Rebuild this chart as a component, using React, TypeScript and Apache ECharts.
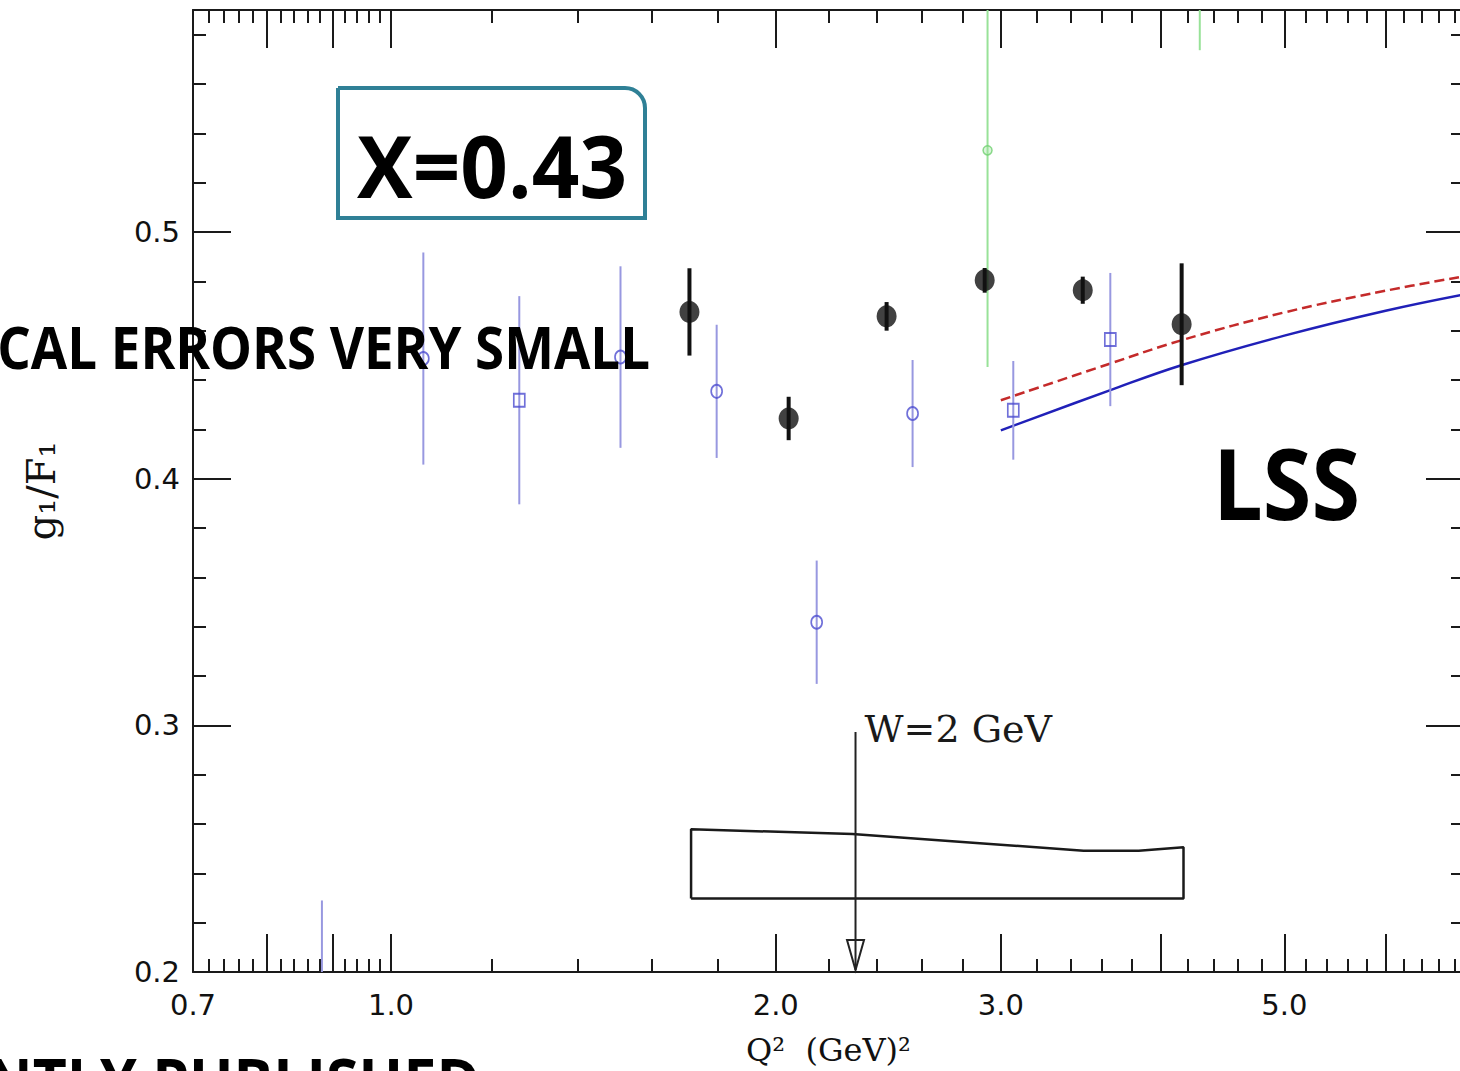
import React, { useEffect, useRef } from 'react';
import * as echarts from 'echarts';

// ---- axis ranges (Q^2 in GeV^2, log scale) ----
const X_MIN = 0.7;
const X_MAX = 6.91;
const Y_MIN = 0.2;
const Y_MAX = 0.59;

// ---- ticks ----
const xLabelTicks = [0.7, 1.0, 2.0, 3.0, 5.0];
const xMajorTicks = [0.8, 0.9, 1.0, 2.0, 3.0, 4.0, 5.0, 6.0];
const xMinorTicks = [
  0.72, 0.74, 0.76, 0.78, 0.82, 0.84, 0.86, 0.88, 0.92, 0.94, 0.96, 0.98,
  1.2, 1.4, 1.6, 1.8, 2.2, 2.4, 2.6, 2.8, 3.2, 3.4, 3.6, 3.8,
  4.2, 4.4, 4.6, 4.8, 5.2, 5.4, 5.6, 5.8, 6.2, 6.4, 6.6, 6.8,
];
const yMajorTicks = [0.2, 0.3, 0.4, 0.5];
const yMinorTicks = [
  0.22, 0.24, 0.26, 0.28, 0.32, 0.34, 0.36, 0.38,
  0.42, 0.44, 0.46, 0.48, 0.52, 0.54, 0.56, 0.58,
];

// ---- black filled points (new data) ----
const blackQ2 = [1.712, 2.047, 2.442, 2.914, 3.477, 4.155];
const blackG = [0.4676, 0.4244, 0.4658, 0.4804, 0.4764, 0.4626];
const blackErr = [0.0177, 0.0088, 0.0058, 0.005, 0.0055, 0.0247];

// ---- blue open points ----
const blueQ2 = [0.883, 1.06, 1.26, 1.512, 1.798, 2.153, 2.559, 3.068, 3.654];
const blueG = [0.15, 0.4487, 0.4318, 0.4493, 0.4354, 0.3418, 0.4264, 0.4277, 0.4564];
const blueErr = [0.079, 0.043, 0.0422, 0.0368, 0.027, 0.025, 0.0217, 0.02, 0.027];
const blueSymbol = ['circle', 'circle', 'rect', 'circle', 'circle', 'circle', 'circle', 'rect', 'rect'];

// ---- green open points ----
const greenQ2 = [2.929, 4.293];
const greenG = [0.5331, 0.66];
const greenErr = [0.0878, 0.0863];

// ---- LSS curves ----
const lssQ2 = [3.0, 3.65, 4.153, 5.0, 6.0, 6.91];
const lssSolid = [0.4196, 0.4358, 0.446, 0.458, 0.4681, 0.4747];
const lssDashed = [0.4318, 0.4466, 0.4561, 0.4674, 0.4762, 0.482];

// ---- systematic error band ----
const sysQ2 = [1.717, 2.296, 2.888, 3.482, 3.846, 4.169];
const sysTop = [0.2579, 0.2559, 0.2522, 0.2492, 0.2492, 0.2506];
const sysBottom = 0.2298;

// ---- W = 2 GeV marker ----
const wQ2 = 2.309;
const wTop = 0.2973;
const wTip = 0.2008;

const L = (v: number) => Math.log10(v);
const AX = '#1a1a1a';

function errorBars(xs: number[], ys: number[], errs: number[], color: string, width: number, z: number) {
  return {
    type: 'custom',
    silent: true,
    z,
    xAxisIndex: 0,
    yAxisIndex: 0,
    data: xs.map((q, i) => [L(q), ys[i] - errs[i], ys[i] + errs[i]]),
    encode: { x: 0, y: [1, 2] },
    renderItem: (_p: any, api: any) => {
      const x = api.value(0) as number;
      const lo = Math.max(api.value(1) as number, Y_MIN);
      const hi = Math.min(api.value(2) as number, Y_MAX);
      if (hi <= lo) return null;
      const a = api.coord([x, lo]);
      const b = api.coord([x, hi]);
      return {
        type: 'line',
        shape: { x1: a[0], y1: a[1], x2: b[0], y2: b[1] },
        style: { stroke: color, lineWidth: width },
      };
    },
  };
}

function buildOption() {
  const xCommon = {
    type: 'value',
    min: L(X_MIN),
    max: L(X_MAX),
    splitLine: { show: false },
  };
  const yCommon = {
    type: 'value',
    min: Y_MIN,
    max: Y_MAX,
    splitLine: { show: false },
  };
  const lineStyle = { color: AX, width: 2 };

  const bandData: number[][] = [
    [L(sysQ2[0]), sysBottom],
    ...sysQ2.map((q, i) => [L(q), sysTop[i]]),
    [L(sysQ2[sysQ2.length - 1]), sysBottom],
    [L(sysQ2[0]), sysBottom],
  ];

  return {
    animation: false,
    backgroundColor: '#fff',
    grid: { left: 193, top: 10, width: 1271, height: 962, containLabel: false, outerBoundsMode: 'none' },
    xAxis: [
      {
        ...xCommon,
        position: 'bottom',
        axisLine: { show: true, onZero: false, lineStyle },
        axisTick: { show: true, inside: true, length: 38, customValues: xMajorTicks.map(L), lineStyle },
        axisLabel: {
          show: true,
          customValues: xLabelTicks.map(L),
          formatter: (v: number) => Math.pow(10, v).toFixed(1),
          margin: 18,
          fontFamily: 'DejaVu Sans',
          fontSize: 29,
          color: '#111',
        },
        name: 'Q²  (GeV)²',
        nameLocation: 'middle',
        nameGap: 62,
        nameTextStyle: { fontFamily: 'DejaVu Serif', fontSize: 32, color: '#111' },
      },
      {
        ...xCommon,
        position: 'bottom',
        axisLine: { show: false, onZero: false },
        axisTick: { show: true, inside: true, length: 13, customValues: xMinorTicks.map(L), lineStyle },
        axisLabel: { show: false },
      },
      {
        ...xCommon,
        position: 'top',
        axisLine: { show: true, onZero: false, lineStyle },
        axisTick: { show: true, inside: true, length: 38, customValues: xMajorTicks.map(L), lineStyle },
        axisLabel: { show: false },
      },
      {
        ...xCommon,
        position: 'top',
        axisLine: { show: false, onZero: false },
        axisTick: { show: true, inside: true, length: 13, customValues: xMinorTicks.map(L), lineStyle },
        axisLabel: { show: false },
      },
    ],
    yAxis: [
      {
        ...yCommon,
        position: 'left',
        axisLine: { show: true, onZero: false, lineStyle },
        axisTick: { show: true, inside: true, length: 38, customValues: yMajorTicks, lineStyle },
        axisLabel: {
          show: true,
          customValues: yMajorTicks,
          formatter: (v: number) => v.toFixed(1),
          margin: 13,
          fontFamily: 'DejaVu Sans',
          fontSize: 29,
          color: '#111',
        },
        name: 'g₁/F₁',
        nameLocation: 'middle',
        nameGap: 132,
        nameTextStyle: { fontFamily: 'DejaVu Serif', fontSize: 40, color: '#111' },
      },
      {
        ...yCommon,
        position: 'left',
        axisLine: { show: false, onZero: false },
        axisTick: { show: true, inside: true, length: 13, customValues: yMinorTicks, lineStyle },
        axisLabel: { show: false },
      },
      {
        ...yCommon,
        position: 'right',
        axisLine: { show: true, onZero: false, lineStyle },
        axisTick: { show: true, inside: true, length: 38, customValues: yMajorTicks, lineStyle },
        axisLabel: { show: false },
      },
      {
        ...yCommon,
        position: 'right',
        axisLine: { show: false, onZero: false },
        axisTick: { show: true, inside: true, length: 13, customValues: yMinorTicks, lineStyle },
        axisLabel: { show: false },
      },
    ],
    series: [
      {
        name: 'systematic band',
        type: 'line',
        xAxisIndex: 0,
        yAxisIndex: 0,
        data: bandData,
        symbol: 'none',
        silent: true,
        lineStyle: { color: '#1a1a1a', width: 2.5 },
        z: 2,
      },
      {
        name: 'LSS solid',
        type: 'line',
        xAxisIndex: 0,
        yAxisIndex: 0,
        data: lssQ2.map((q, i) => [L(q), lssSolid[i]]),
        symbol: 'none',
        smooth: 0.4,
        silent: true,
        lineStyle: { color: '#2020b8', width: 2.5 },
        z: 2,
      },
      {
        name: 'LSS dashed',
        type: 'line',
        xAxisIndex: 0,
        yAxisIndex: 0,
        data: lssQ2.map((q, i) => [L(q), lssDashed[i]]),
        symbol: 'none',
        smooth: 0.4,
        silent: true,
        lineStyle: { color: '#c42a2a', width: 2.5, type: [10, 5] },
        z: 2,
      },
      errorBars(blueQ2, blueG, blueErr, '#9898e0', 2, 3),
      errorBars(greenQ2, greenG, greenErr, '#98e298', 2, 3),
      {
        name: 'blue points',
        type: 'scatter',
        xAxisIndex: 0,
        yAxisIndex: 0,
        silent: true,
        data: blueQ2.map((q, i) => ({ value: [L(q), blueG[i]], symbol: blueSymbol[i] })),
        symbolSize: [11, 13],
        itemStyle: { color: 'rgba(255,255,255,0)', borderColor: '#4c4cd0', borderWidth: 1.8 },
        z: 4,
      },
      {
        name: 'green points',
        type: 'scatter',
        xAxisIndex: 0,
        yAxisIndex: 0,
        silent: true,
        data: greenQ2.map((q, i) => [L(q), greenG[i]]),
        symbol: 'circle',
        symbolSize: 9,
        itemStyle: { color: 'rgba(160,230,160,0.5)', borderColor: '#6fcf6f', borderWidth: 1.5 },
        z: 4,
      },
      errorBars(blackQ2, blackG, blackErr, '#111', 4, 5),
      {
        name: 'black points',
        type: 'scatter',
        xAxisIndex: 0,
        yAxisIndex: 0,
        silent: true,
        data: blackQ2.map((q, i) => [L(q), blackG[i]]),
        symbol: 'circle',
        symbolSize: [20, 22],
        itemStyle: { color: '#111' },
        z: 6,
      },
      {
        name: 'W=2 GeV',
        type: 'custom',
        silent: true,
        xAxisIndex: 0,
        yAxisIndex: 0,
        z: 6,
        data: [[L(wQ2), wTip, wTop]],
        renderItem: (_p: any, api: any) => {
          const x = api.value(0) as number;
          const tip = api.coord([x, api.value(1)]);
          const top = api.coord([x, api.value(2)]);
          const hh = 30;
          const hw = 8.5;
          return {
            type: 'group',
            children: [
              {
                type: 'line',
                shape: { x1: top[0], y1: top[1], x2: tip[0], y2: tip[1] },
                style: { stroke: '#222', lineWidth: 2 },
              },
              {
                type: 'polygon',
                shape: { points: [[tip[0], tip[1]], [tip[0] - hw, tip[1] - hh], [tip[0] + hw, tip[1] - hh]] },
                style: { fill: 'none', stroke: '#222', lineWidth: 2 },
              },
              {
                type: 'text',
                x: top[0] + 9,
                y: top[1] - 3,
                style: {
                  text: 'W=2 GeV',
                  fontFamily: 'DejaVu Serif',
                  fontSize: 38,
                  fill: '#1a1a1a',
                  textAlign: 'left',
                  textVerticalAlign: 'middle',
                },
              },
            ],
          };
        },
      },
    ],
    graphic: [
      {
        type: 'rect',
        shape: { x: 338, y: 88, width: 307, height: 130, r: [0, 20, 0, 0] },
        style: { fill: '#fff', stroke: '#2f8096', lineWidth: 4 },
        z: 10,
      },
      {
        type: 'text',
        x: 357,
        y: 165,
        scaleX: 0.97,
        style: {
          text: 'X=0.43',
          fontFamily: 'Open Sans',
          fontWeight: 'bold',
          fontSize: 86,
          fill: '#000',
          textAlign: 'left',
          textVerticalAlign: 'middle',
        },
        z: 11,
      },
      {
        type: 'text',
        x: 650,
        y: 346,
        scaleX: 0.895,
        style: {
          text: 'CAL ERRORS VERY SMALL',
          fontFamily: 'Open Sans',
          fontWeight: 'bold',
          fontSize: 59,
          fill: '#000',
          textAlign: 'right',
          textVerticalAlign: 'middle',
        },
        z: 11,
      },
      {
        type: 'text',
        x: 1213,
        y: 482,
        scaleX: 0.9,
        style: {
          text: 'LSS',
          fontFamily: 'Open Sans',
          fontWeight: 'bold',
          fontSize: 98,
          fill: '#000',
          textAlign: 'left',
          textVerticalAlign: 'middle',
        },
        z: 11,
      },
      {
        type: 'text',
        x: 480,
        y: 1080,
        scaleX: 0.95,
        style: {
          text: 'NTLY PUBLISHED',
          fontFamily: 'Open Sans',
          fontWeight: 'bold',
          fontSize: 62,
          fill: '#000',
          textAlign: 'right',
          textVerticalAlign: 'middle',
        },
        z: 11,
      },
    ],
  };
}

export default function App() {
  const ref = useRef<HTMLDivElement>(null);
  useEffect(() => {
    if (!ref.current) return;
    const chart = echarts.init(ref.current, undefined, { renderer: 'svg' });
    chart.setOption(buildOption() as any);
    return () => chart.dispose();
  }, []);
  return (
    <div
      ref={ref}
      style={{ position: 'absolute', left: 0, top: 0, width: 1460, height: 1071, background: '#fff' }}
    />
  );
}
